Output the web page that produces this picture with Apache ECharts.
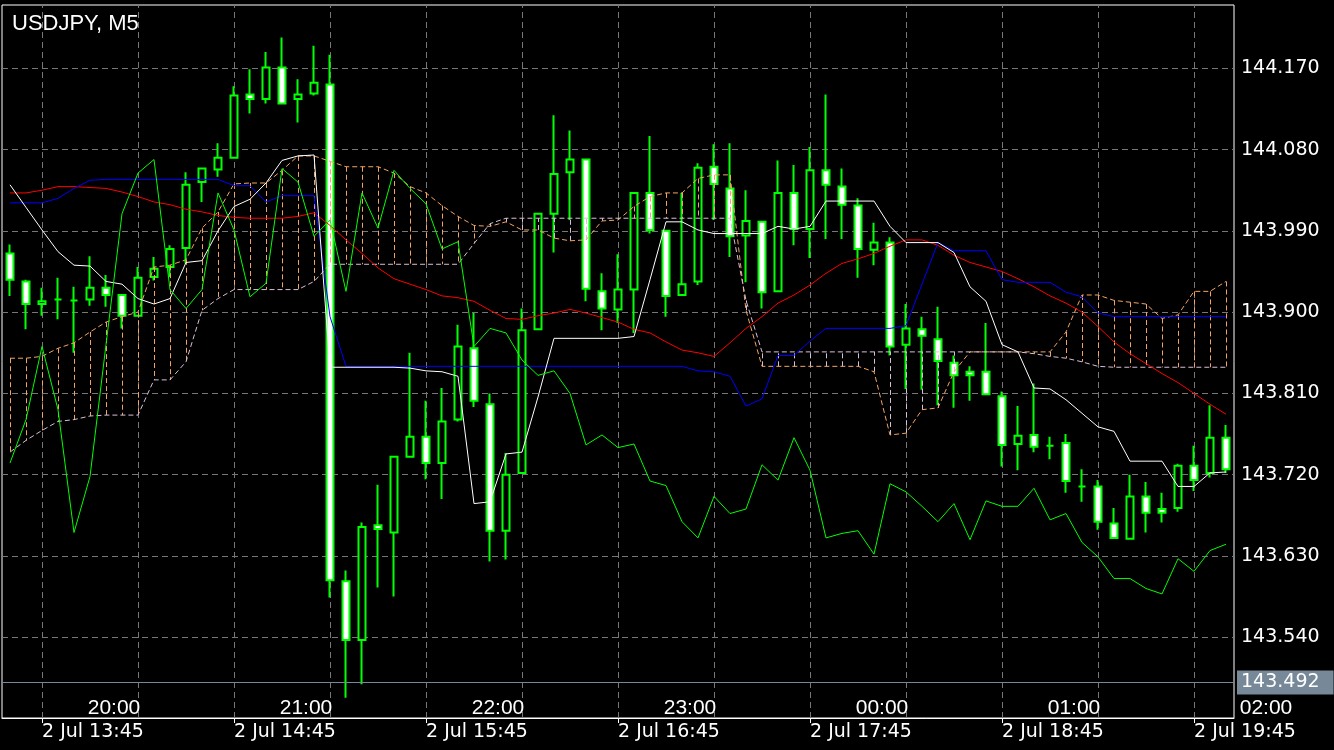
<!DOCTYPE html>
<html><head><meta charset="utf-8">
<script src="https://cdn.jsdelivr.net/npm/echarts@6/dist/echarts.min.js"></script>
<style>html,body{margin:0;padding:0;background:#000;}#c{width:1334px;height:750px;}</style>
</head><body><div id="c"></div>
<script>
const categories = ['13:35','13:40','13:45','13:50','13:55',
 '14:00','14:05','14:10','14:15','14:20','14:25','14:30','14:35','14:40','14:45','14:50','14:55',
 '15:00','15:05','15:10','15:15','15:20','15:25','15:30','15:35','15:40','15:45','15:50','15:55',
 '16:00','16:05','16:10','16:15','16:20','16:25','16:30','16:35','16:40','16:45','16:50','16:55',
 '17:00','17:05','17:10','17:15','17:20','17:25','17:30','17:35','17:40','17:45','17:50','17:55',
 '18:00','18:05','18:10','18:15','18:20','18:25','18:30','18:35','18:40','18:45','18:50','18:55',
 '19:00','19:05','19:10','19:15','19:20','19:25','19:30','19:35','19:40','19:45','19:50','19:55'];

const opens = [143.965,143.934,143.909,143.914,143.913,143.914,143.927,143.919,143.896,143.939,
 143.950,143.971,144.044,144.058,144.071,144.141,144.136,144.171,144.136,144.142,
 144.152,143.602,143.537,143.664,143.656,143.740,143.762,143.733,143.781,143.860,
 143.798,143.658,143.722,143.881,144.009,144.055,144.069,143.923,143.903,143.925,
 144.032,143.990,143.919,143.934,144.061,144.037,143.985,144.000,143.923,144.032,
 143.992,144.057,144.039,144.018,143.969,143.977,143.864,143.881,143.870,143.844,
 143.834,143.834,143.807,143.754,143.764,143.752,143.755,143.707,143.707,143.666,
 143.649,143.696,143.682,143.683,143.730,143.722,143.761];
const closes = [143.936,143.909,143.912,143.914,143.913,143.927,143.919,143.896,143.938,143.948,
 143.970,144.041,144.059,144.071,144.140,144.136,144.171,144.131,144.141,144.154,
 143.603,143.537,143.662,143.660,143.740,143.762,143.733,143.779,143.862,143.802,
 143.658,143.720,143.880,144.009,144.053,144.069,143.926,143.904,143.925,144.032,
 143.991,143.918,143.931,144.060,144.042,143.984,144.001,143.922,144.032,143.992,
 144.057,144.041,144.019,143.970,143.977,143.862,143.882,143.874,143.846,143.830,
 143.830,143.809,143.753,143.763,143.751,143.752,143.713,143.707,143.668,143.650,
 143.696,143.678,143.678,143.730,143.714,143.761,143.726];
const lows = [143.918,143.881,143.896,143.892,143.855,143.907,143.906,143.882,143.896,143.935,
 143.939,143.954,144.022,144.050,144.071,144.120,144.131,144.130,144.110,144.140,
 143.584,143.473,143.488,143.595,143.585,143.740,143.715,143.693,143.779,143.795,
 143.624,143.626,143.722,143.880,143.966,144.002,143.912,143.880,143.888,143.877,
 143.987,143.895,143.919,143.930,144.002,143.961,143.933,143.904,143.923,143.974,
 143.960,143.981,143.981,143.938,143.952,143.852,143.815,143.814,143.797,143.794,
 143.802,143.809,143.729,143.725,143.745,143.737,143.700,143.690,143.659,143.649,
 143.649,143.656,143.667,143.679,143.702,143.717,143.722];
const highs = [143.975,143.936,143.927,143.938,143.928,143.962,143.941,143.919,143.950,143.961,
 143.974,144.055,144.059,144.087,144.150,144.169,144.188,144.204,144.158,144.195,
 144.185,143.614,143.667,143.709,143.740,143.855,143.802,143.816,143.886,143.899,
 143.810,143.744,143.904,144.009,144.118,144.101,144.069,143.943,143.964,144.032,
 144.095,143.990,144.032,144.065,144.086,144.087,144.035,144.000,144.068,144.063,
 144.083,144.141,144.059,144.026,143.999,143.983,143.909,143.895,143.906,143.852,
 143.840,143.888,143.812,143.796,143.821,143.762,143.765,143.726,143.714,143.683,
 143.720,143.712,143.700,143.732,143.752,143.797,143.775];

// white line
const whiteLine = [144.041,144.016,143.991,143.967,143.952,143.951,143.934,143.931,143.915,143.909,
 143.915,143.955,143.957,143.990,144.017,144.025,144.043,144.068,144.073,144.074,
 143.839,143.839,143.839,143.839,143.839,143.838,143.835,143.834,143.829,143.688,
 143.690,143.743,143.745,143.806,143.871,143.871,143.871,143.871,143.871,143.873,
 143.936,144.000,144.000,143.991,143.987,143.987,143.987,143.987,143.995,143.992,
 143.995,144.023,144.023,144.023,144.023,143.995,143.977,143.977,143.977,143.966,
 143.928,143.912,143.864,143.856,143.816,143.815,143.803,143.788,143.773,143.768,
 143.735,143.735,143.735,143.707,143.707,143.722,143.723];
// blue line
const blueLine = [144.021,144.021,144.021,144.026,144.037,144.046,144.047,144.047,144.047,144.047,
 144.047,144.047,144.047,144.047,144.040,144.040,144.022,144.029,144.029,144.029,
 143.895,143.840,143.840,143.840,143.840,143.840,143.840,143.840,143.840,143.840,
 143.840,143.840,143.840,143.840,143.840,143.840,143.840,143.840,143.840,143.840,
 143.840,143.840,143.840,143.835,143.834,143.829,143.796,143.804,143.852,143.852,
 143.868,143.882,143.882,143.882,143.882,143.882,143.885,143.931,143.977,143.968,
 143.968,143.968,143.936,143.933,143.933,143.933,143.922,143.917,143.899,143.895,
 143.895,143.895,143.895,143.895,143.895,143.895,143.895];
// red line
const redLine = [144.032,144.032,144.035,144.039,144.039,144.038,144.037,144.033,144.028,144.022,
 144.019,144.014,144.011,144.007,144.005,144.004,144.004,144.004,144.006,144.010,
 143.996,143.980,143.965,143.949,143.937,143.931,143.925,143.918,143.916,143.912,
 143.902,143.893,143.892,143.896,143.899,143.903,143.899,143.894,143.889,143.881,
 143.877,143.867,143.858,143.855,143.851,143.866,143.882,143.895,143.910,143.919,
 143.930,143.943,143.954,143.959,143.965,143.973,143.980,143.980,143.974,143.963,
 143.955,143.950,143.945,143.937,143.928,143.918,143.910,143.900,143.884,143.867,
 143.854,143.843,143.832,143.822,143.810,143.798,143.787];
// lime line
const limeLine = [143.733,143.781,143.862,143.792,143.656,143.718,143.864,144.009,144.054,144.069,
 143.925,143.904,143.925,144.032,143.991,143.917,143.932,144.059,144.044,143.984,
 144.002,143.923,144.032,143.993,144.057,144.037,144.020,143.970,143.978,143.862,
 143.882,143.877,143.847,143.830,143.835,143.810,143.753,143.764,143.750,143.754,
 143.713,143.708,143.668,143.650,143.696,143.677,143.682,143.731,143.714,143.761,
 143.725,143.650,143.655,143.658,143.632,143.710,143.701,143.685,143.668,143.688,
 143.648,143.691,143.685,143.685,143.705,143.670,143.677,143.645,143.629,143.605,
 143.605,143.594,143.588,143.627,143.613,143.636,143.643];
// cloud span A (sandy brown) and span B (thistle)
const spanA = [143.849,143.849,143.851,143.860,143.866,143.878,143.889,143.895,143.900,143.950,
 143.952,143.958,143.993,144.011,144.042,144.043,144.043,144.057,144.073,144.073,
 144.067,144.061,144.061,144.061,144.054,144.039,144.032,144.018,144.006,143.996,
 143.995,144.000,143.991,143.991,143.982,143.979,143.980,144.001,144.002,144.017,
 144.028,144.032,144.032,144.048,144.052,144.052,143.902,143.840,143.840,143.840,
 143.840,143.840,143.840,143.840,143.834,143.764,143.766,143.792,143.794,143.834,
 143.856,143.856,143.856,143.856,143.856,143.856,143.878,143.919,143.919,143.913,
 143.911,143.909,143.893,143.897,143.923,143.923,143.934];
const spanB = [143.745,143.758,143.769,143.779,143.781,143.785,143.786,143.786,143.786,143.825,
 143.825,143.845,143.902,143.915,143.925,143.925,143.925,143.925,143.925,143.934,
 143.953,143.953,143.953,143.953,143.953,143.953,143.953,143.953,143.953,143.976,
 143.998,144.004,144.004,144.004,144.004,144.004,144.004,144.004,144.004,144.004,
 144.004,144.004,144.004,144.004,144.004,144.004,143.913,143.856,143.856,143.856,
 143.856,143.856,143.856,143.856,143.856,143.856,143.856,143.856,143.856,143.856,
 143.856,143.856,143.856,143.856,143.854,143.851,143.849,143.845,143.840,143.839,
 143.839,143.839,143.839,143.839,143.839,143.839,143.839];

const priceTicks = [143.540,143.630,143.720,143.810,143.900,143.990,144.080,144.170];
const vGridCats = ['13:45','14:15','14:45','15:15','15:45','16:15','16:45','17:15','17:45','18:15','18:45','19:15','19:45'];
const bottomLabelCats = ['13:45','14:45','15:45','16:45','17:45','18:45','19:45'];
const topTimes = ['20:00','21:00','22:00','23:00','00:00','01:00','02:00'];
const currentPrice = 143.492;
const symbolTitle = 'USDJPY, M5';

const candleData = opens.map((o,i)=>[o, closes[i], lows[i], highs[i]]);
const cloudData = spanA.map((a,i)=>[i, a, spanB[i]]);
const SANDY = '#F4A460', THISTLE = '#D8BFD8';

const chart = echarts.init(document.getElementById('c'));
const option = {
  backgroundColor: '#000',
  animation: false,
  title: { text: symbolTitle, left: 7, top: 8,
    textStyle: { color: '#fff', fontSize: 22, fontWeight: 'normal', fontFamily: 'Liberation Sans' } },
  grid: { left: 2, top: 5, width: 1232, height: 713, show: true, borderColor: '#fff', borderWidth: 1, backgroundColor: 'transparent' },
  xAxis: {
    type: 'category', data: categories, boundaryGap: true,
    axisLine: { show: true, lineStyle: { color: '#fff' } },
    axisTick: { show: true, alignWithLabel: true, length: 5, lineStyle: { color: '#fff' },
      interval: (idx, v) => bottomLabelCats.indexOf(v) >= 0 },
    axisLabel: { show: true, color: '#fff', fontSize: 19, fontFamily: 'DejaVu Sans', align: 'left', margin: 5,
      interval: (idx, v) => bottomLabelCats.indexOf(v) >= 0,
      formatter: v => '2 Jul ' + v },
    splitLine: { show: false }
  },
  yAxis: {
    type: 'value', position: 'right', min: 143.4506, max: 144.2401, scale: true,
    axisLine: { show: false }, axisTick: { show: false }, splitLine: { show: false },
    axisLabel: { show: true, color: '#fff', fontSize: 19, fontFamily: 'DejaVu Sans', margin: 7,
      customValues: priceTicks, formatter: v => v.toFixed(3) }
  },
  series: [
    { type: 'custom', name: 'cloud', z: 3, data: cloudData, encode: { x: 0, y: [1, 2] },
      renderItem: (params, api) => {
        const i = api.value(0);
        const p1 = api.coord([i, api.value(1)]);
        const p2 = api.coord([i, api.value(2)]);
        const col = api.value(1) >= api.value(2) ? SANDY : THISTLE;
        const x = Math.round(p1[0]) + 0.5;
        return { type: 'line', shape: { x1: x, y1: p1[1], x2: x, y2: p2[1] },
          style: { stroke: col, lineWidth: 1, lineDash: [5, 3] } };
      },
      markLine: { silent: true, symbol: ['none', 'none'], z: 0, animation: false,
        label: { show: false },
        lineStyle: { color: '#777', type: [6, 4], width: 1 },
        data: vGridCats.map(c => ({ xAxis: c })).concat(priceTicks.map(v => ({ yAxis: v }))) }
    },
    { type: 'line', name: 'spanA', data: spanA, showSymbol: false, z: 3,
      lineStyle: { color: SANDY, width: 1, type: [5, 3] } },
    { type: 'line', name: 'spanB', data: spanB, showSymbol: false, z: 3,
      lineStyle: { color: THISTLE, width: 1, type: [5, 3] } },
    { type: 'candlestick', name: 'USDJPY', data: candleData, barWidth: 7, z: 2,
      itemStyle: { color: '#000', color0: '#fff', borderColor: '#00ff00', borderColor0: '#00ff00', borderWidth: 2 },
      markLine: { silent: true, symbol: ['none', 'none'], animation: false,
        lineStyle: { color: '#778899', type: 'solid', width: 1 },
        label: { show: true, position: 'end', formatter: currentPrice.toFixed(3), color: '#fff',
          backgroundColor: '#778899', fontSize: 19, fontFamily: 'DejaVu Sans', padding: [3, 14, 2, 4], distance: 3 },
        data: [{ yAxis: currentPrice }] } },
    { type: 'line', name: 'red', data: redLine, showSymbol: false, z: 4, lineStyle: { color: '#ff0000', width: 1 } },
    { type: 'line', name: 'blue', data: blueLine, showSymbol: false, z: 4, lineStyle: { color: '#0000ff', width: 1 } },
    { type: 'line', name: 'white', data: whiteLine, showSymbol: false, z: 4, lineStyle: { color: '#ffffff', width: 1 } },
    { type: 'line', name: 'lime', data: limeLine, showSymbol: false, z: 4, lineStyle: { color: '#00ff00', width: 1 } }
  ]
};
chart.setOption(option);
const x6 = chart.convertToPixel({ xAxisIndex: 0 }, 6);
const x18 = chart.convertToPixel({ xAxisIndex: 0 }, 18);
const step = x18 - x6;
chart.setOption({
  graphic: topTimes.map((t, k) => ({
    type: 'text', x: x6 + step / 24 + k * step, y: 708, silent: true,
    style: { text: t, fill: '#fff', font: '21px "Liberation Sans"', align: 'center', verticalAlign: 'middle' }
  }))
});
</script>
</body></html>
